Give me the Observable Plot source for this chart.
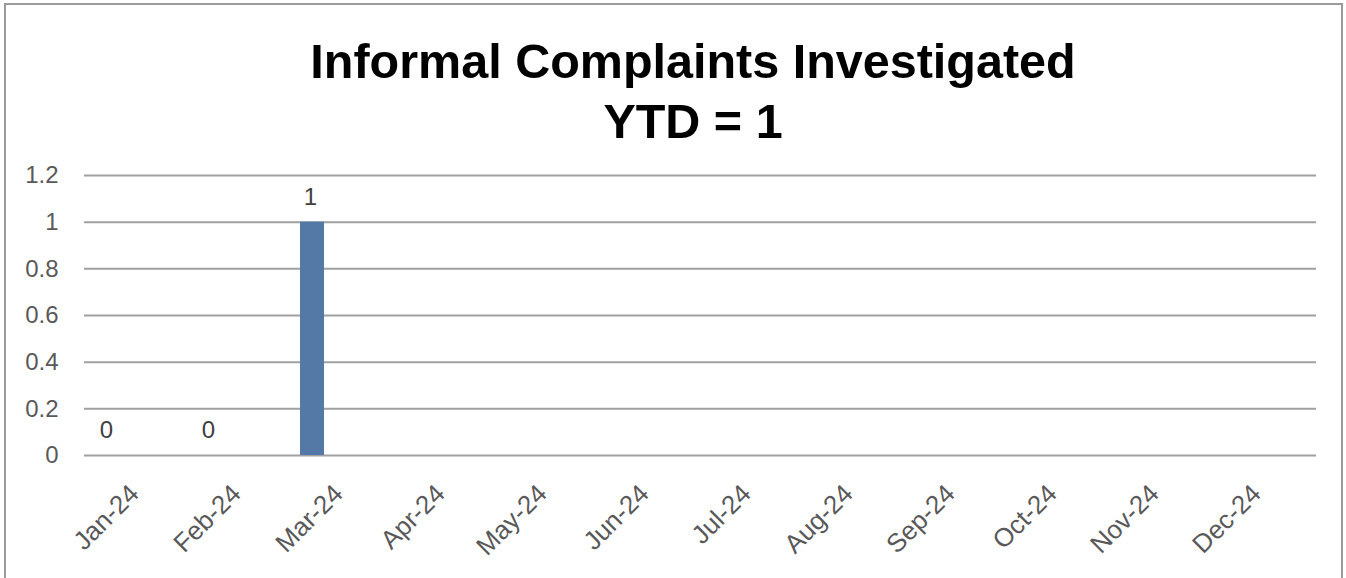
<!DOCTYPE html>
<html>
<head>
<meta charset="utf-8">
<script src="https://cdn.jsdelivr.net/npm/d3@7"></script>
<script src="https://cdn.jsdelivr.net/npm/@observablehq/plot@0.6"></script>
<style>
  html, body { margin: 0; padding: 0; background: #fff; }
  #wrap { position: relative; width: 1346px; height: 578px; overflow: hidden; }
  #frame { position: absolute; left: 4px; top: 3px; width: 1339px; height: 600px; border: 2px solid #9a9a9a; box-sizing: border-box; }
  #title { position: absolute; left: 0; top: 31px; width: 1386px; text-align: center;
    font-family: "Liberation Sans", Arial, sans-serif; font-weight: bold; font-size: 48.5px; line-height: 60px; color: #000; }
  #chart { position: absolute; left: 0; top: 150px; }
</style>
</head>
<body>
<div id="wrap">
  <div id="frame"></div>
  <div id="title">Informal Complaints Investigated<br>YTD = 1</div>
  <div id="chart"></div>
</div>
<script>
const months = ["Jan-24","Feb-24","Mar-24","Apr-24","May-24","Jun-24","Jul-24","Aug-24","Sep-24","Oct-24","Nov-24","Dec-24"];
const values = [0, 0, 1, null, null, null, null, null, null, null, null, null];
const yTicks = [0, 0.2, 0.4, 0.6, 0.8, 1, 1.2];

const data = months.map((m, i) => ({month: m, value: values[i]}));
const filled = data.filter(d => d.value != null);

const fontFam = '"Liberation Sans", Arial, sans-serif';
const plot = Plot.plot({
  width: 1346,
  height: 428,
  marginLeft: 84,
  marginRight: 30,
  marginTop: 25,
  marginBottom: 123,
  style: {fontFamily: fontFam, fontSize: "24px", color: "#595959", background: "transparent"},
  x: {domain: months, padding: 0, label: null},
  y: {domain: [0, 1.2], label: null},
  marks: [
    Plot.ruleY(yTicks, {stroke: "#a0a0a0", strokeWidth: 2}),
    Plot.axisY(yTicks, {tickSize: 0, tickPadding: 26, tickFormat: d => String(d), fontSize: 24, fill: "#595959", label: null}),
    Plot.axisX({tickSize: 0, tickRotate: -45, tickPadding: 20, dy: 14, dx: -5, fontSize: 26, fill: "#595959", label: null}),
    Plot.barY(filled, {x: "month", y: "value", fill: "#5579a7", insetLeft: 8, insetRight: 70}),
    Plot.text(filled, {x: "month", y: "value", text: d => String(d.value), dx: -33, dy: -25, fill: "#404040", fontSize: 24})
  ]
});
document.getElementById("chart").appendChild(plot);
</script>
</body>
</html>
